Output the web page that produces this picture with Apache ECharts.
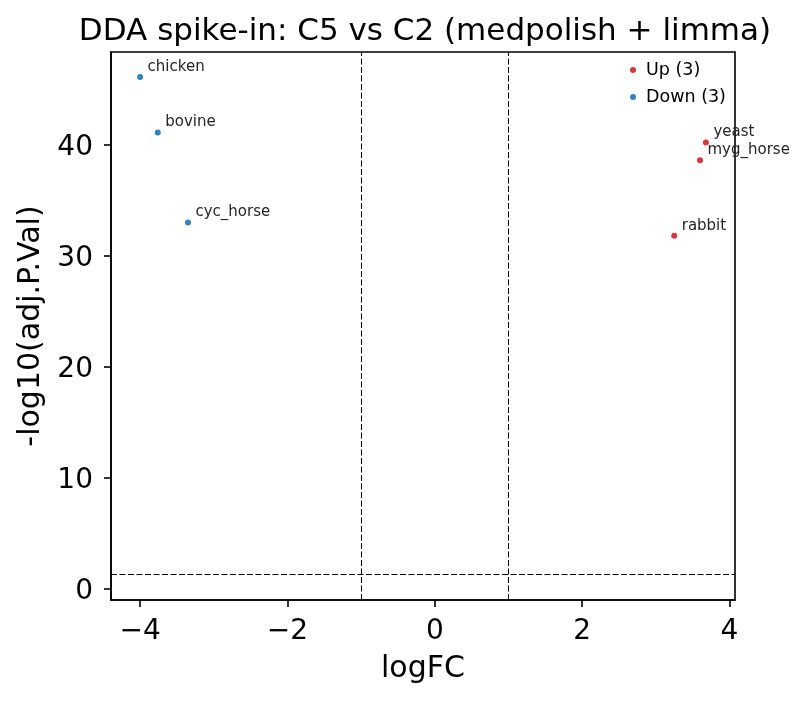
<!DOCTYPE html>
<html><head><meta charset="utf-8">
<script src="https://cdn.jsdelivr.net/npm/echarts@6/dist/echarts.min.js"></script>
<style>html,body{margin:0;padding:0;background:#fff}#c{width:809px;height:702px}</style>
</head><body><div id="c"></div>
<script>
const upNames = ['yeast', 'myg_horse', 'rabbit'];
const upLogFC = [3.68, 3.60, 3.25];
const upNegLogP = [40.2, 38.6, 31.8];
const downNames = ['chicken', 'bovine', 'cyc_horse'];
const downLogFC = [-4.00, -3.76, -3.35];
const downNegLogP = [46.1, 41.1, 33.0];
const xTicks = [-4, -2, 0, 2, 4];
const yTicks = [0, 10, 20, 30, 40];
const fcCut = [-1, 1];
const pCut = 1.301;

const FONT = 'DejaVu Sans';
const fmt = v => String(v).replace('-', '\u2212');
function pts(xs, ys, ns){ return xs.map((x,i)=>({value:[x, ys[i]], name: ns[i]})); }
const labelCfg = {show:true, position:'right', distance:4.5, offset:[0,-10], formatter: p => p.name,
  fontFamily: FONT, fontSize: 15, color:'#262626', opacity:1};

const chart = echarts.init(document.getElementById('c'), null, {renderer:'canvas'});
chart.setOption({
  animation:false,
  textStyle:{fontFamily:FONT},
  title:{text:'DDA spike-in: C5 vs C2 (medpolish + limma)', left:420, textAlign:'center', top:11,
    textStyle:{fontFamily:FONT, fontSize:31, fontWeight:'normal', color:'#000'}},
  legend:{orient:'vertical', left:625, top:56, itemWidth:16, itemHeight:6, itemGap:9,
    icon:'circle', textStyle:{fontFamily:FONT, fontSize:17.5, color:'#000'},
    data:['Up (3)', 'Down (3)']},
  grid:{left:111, right:74, top:52, bottom:102, show:true, borderColor:'#000', borderWidth:1.6},
  xAxis:{type:'value', min:-4.395, max:4.075, splitLine:{show:false},
    name:'logFC', nameLocation:'middle', nameGap:54,
    nameTextStyle:{fontFamily:FONT, fontSize:30, color:'#000'},
    axisLine:{onZero:false, lineStyle:{color:'#000', width:1.6}},
    axisTick:{length:7, lineStyle:{color:'#000', width:1.6}, customValues:xTicks},
    axisLabel:{customValues:xTicks, formatter:fmt, fontFamily:FONT, fontSize:28, color:'#000', margin:18}},
  yAxis:{type:'value', min:-1, max:48.35, splitLine:{show:false},
    name:'-log10(adj.P.Val)', nameLocation:'middle', nameGap:62,
    nameTextStyle:{fontFamily:FONT, fontSize:30, color:'#000'},
    axisLine:{onZero:false, lineStyle:{color:'#000', width:1.6}},
    axisTick:{length:7, lineStyle:{color:'#000', width:1.6}, customValues:yTicks},
    axisLabel:{customValues:yTicks, formatter: v => '{a|' + fmt(v) + '}', margin:18,
      rich:{a:{fontFamily:FONT, fontSize:28, color:'#000', padding:[6,0,0,0]}}}},
  series:[
    {name:'Up (3)', type:'scatter', symbolSize:6, itemStyle:{color:'#d9363a', opacity:1},
     data:pts(upLogFC, upNegLogP, upNames), label:labelCfg,
     markLine:{silent:true, symbol:'none', label:{show:false},
       lineStyle:{color:'#000', type:[6,2.5], width:1, opacity:1},
       data:[{xAxis:fcCut[0]}, {xAxis:fcCut[1]}, {yAxis:pCut}]}},
    {name:'Down (3)', type:'scatter', symbolSize:6, itemStyle:{color:'#3182bd', opacity:1},
     data:pts(downLogFC, downNegLogP, downNames), label:labelCfg}
  ]
});
</script></body></html>
